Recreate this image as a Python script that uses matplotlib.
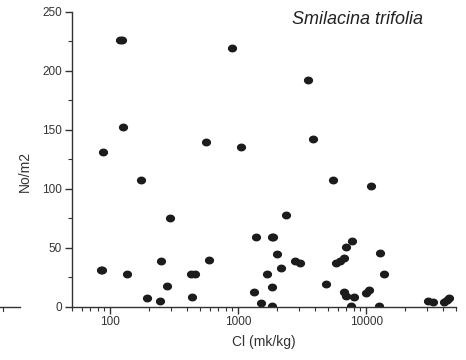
import numpy as np
import matplotlib
matplotlib.use("Agg")
import matplotlib.pyplot as plt
from matplotlib.path import Path
from matplotlib.lines import Line2D
from matplotlib.ticker import LogLocator, MultipleLocator, FixedLocator

# chloride content in soil (mk/kg) vs plant density (No/m2)
cl = [119, 123, 88, 84, 86, 126, 135, 174, 193, 244, 250, 278, 295,
      432, 425, 460, 560, 587, 887, 1043, 1334, 1374, 1503, 1663, 1820,
      1820, 1830, 1880, 2001, 2148, 2380, 2750, 3042, 3510, 3863, 4820,
      5465, 5770, 6270, 6700, 6950, 6750, 6900, 7640, 7730, 8010, 9930,
      10420, 10940, 12470, 12700, 13810, 30600, 33500, 40700, 42500, 44100]
density = [226, 226, 131.5, 31, 31, 152.5, 27.7, 107.3, 7.6, 5, 38.4, 17.5, 75.4,
           8.5, 27.7, 27.7, 139.5, 39.8, 219.5, 135.6, 12.1, 59.3, 3.4, 27.7, 17,
           0.8, 59.3, 59.3, 44.6, 32.5, 77.4, 38.7, 36.7, 191.8, 142.4, 19.2,
           107.3, 36.7, 38.4, 41.5, 50.6, 12.7, 9.3, 0.8, 55.6, 8.5, 11.3,
           14.1, 102.5, 0.8, 45.8, 27.7, 4.8, 3.7, 3.7, 5.6, 7.6]

plt.rcParams["font.family"] = ["Liberation Sans", "DejaVu Sans"]

fig = plt.figure(figsize=(4.66, 3.6), dpi=100)
ax = fig.add_axes([0.154, 0.148, 0.824, 0.8195])

# slightly wide ellipse marker
t = np.linspace(0, 2 * np.pi, 40)
ell = Path(np.column_stack([1.2 * np.cos(t), np.sin(t)]), closed=True)
ax.plot(cl, density, ls="none", marker=ell, ms=5.6, color="#1c1c1c", mec="#1c1c1c")

ax.set_xscale("log")
ax.set_xlim(50, 50000)
ax.set_ylim(0, 250)
ax.xaxis.set_major_locator(FixedLocator([100, 1000, 10000]))
ax.xaxis.set_minor_locator(LogLocator(base=10, subs=np.arange(2, 10)))
ax.xaxis.set_minor_formatter(plt.NullFormatter())
ax.set_xticklabels(["100", "1000", "10000"])
ax.yaxis.set_major_locator(MultipleLocator(50))
ax.yaxis.set_minor_locator(MultipleLocator(25))

for s in ("top", "right"):
    ax.spines[s].set_visible(False)
for s in ("left", "bottom"):
    ax.spines[s].set_color("#333333")
    ax.spines[s].set_linewidth(1.0)

ax.tick_params(which="major", direction="out", length=5, width=1.0,
               color="#333333", labelsize=8.5, labelcolor="#333333", pad=2)
ax.tick_params(which="minor", direction="out", length=3, width=0.8, color="#333333")

ax.set_xlabel("Cl (mk/kg)", fontsize=10, color="#333333", labelpad=5)
ax.set_ylabel("No/m2", fontsize=10, color="#333333")
ax.yaxis.set_label_coords(-0.105, 0.46)

fig.text(0.908, 0.946, "Smilacina trifolia", fontsize=13, style="italic",
         ha="right", va="center", color="#222222")

# stray axis fragment from a neighbouring panel at the left edge
fig.add_artist(Line2D([0.0, 0.043], [0.148, 0.148], color="#333333", lw=1.0,
                      transform=fig.transFigure))
fig.add_artist(Line2D([0.006, 0.006], [0.148, 0.136], color="#333333", lw=0.8,
                      transform=fig.transFigure))

fig.savefig("out.png", dpi=100)
